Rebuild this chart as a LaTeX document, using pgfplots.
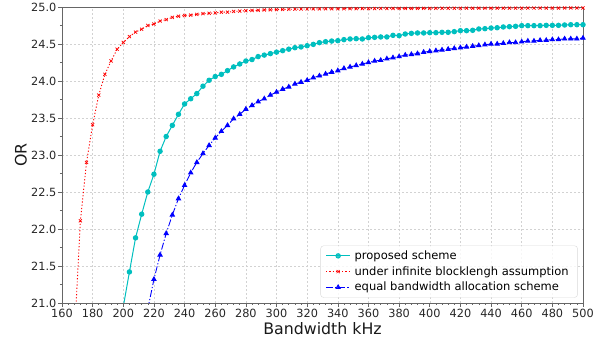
\documentclass[border=0pt]{standalone}
\usepackage{fontspec}
\setmainfont{DejaVu Sans}
\usepackage{pgfplots}
\pgfplotsset{compat=1.18}
\definecolor{mplc}{rgb}{0,0.75,0.75}
\begin{document}
\begin{tikzpicture}
\useasboundingbox (0,0) rectangle (606pt,337pt);
\begin{axis}[
  at={(62pt,34pt)}, anchor=south west,
  scale only axis, width=521pt, height=296pt,
  xmin=160, xmax=500, ymin=21, ymax=25,
  xtick={160,180,...,500},
  ytick={21,21.5,...,25},
  minor x tick num=4, minor y tick num=1,
  yticklabel style={/pgf/number format/.cd, fixed, fixed zerofill, precision=1},
  /pgf/number format/assume math mode=true,
  tick label style={font=\fontsize{11.3}{13}\selectfont, text=black!85, inner sep=1.5pt},
  tick align=outside, tick pos=left,
  major tick length=4pt, minor tick length=2pt,
  every tick/.style={black!60, line width=0.6pt},
  axis line style={black!60, line width=0.8pt},
  grid=major,
  major grid style={gray!35, line width=0.5pt, dash pattern=on 2pt off 2pt},
  xlabel={Bandwidth kHz}, ylabel={OR},
  every axis x label/.style={at={(axis description cs:0.5,-0.085)}, anchor=center, inner sep=0pt, font=\fontsize{15.8}{18}\selectfont, text=black!90},
  every axis y label/.style={at={(axis description cs:-0.079,0.5)}, anchor=center, rotate=90, inner sep=0pt, font=\fontsize{15.8}{18}\selectfont, text=black!90},
  legend style={at={(0.99,0.018)}, anchor=south east, draw=gray!30, rounded corners=3pt,
    fill=white, fill opacity=0.8, text opacity=1,
    font=\fontsize{11.5}{13}\selectfont, row sep=1.5pt, inner xsep=5pt, inner ysep=3pt,
    nodes={inner xsep=4pt}},
  legend cell align=left,
  legend image code/.code={\draw[mark repeat=2,mark phase=2,#1] plot coordinates {(0pt,0pt) (12pt,0pt) (24pt,0pt)};},
]
\addplot[mplc, line width=1pt, mark=*, mark size=2.2pt, mark options={solid}] coordinates {
(200,20.95) (204,21.42) (208,21.88) (212,22.20) (216,22.50) (220,22.74) (224,23.05) (228,23.25)
(232,23.40) (236,23.55) (240,23.69) (244,23.76) (248,23.83) (252,23.93) (256,24.01) (260,24.06)
(264,24.09) (268,24.14) (272,24.19) (276,24.23) (280,24.27) (284,24.29) (288,24.33) (292,24.35)
(296,24.37) (300,24.39) (304,24.41) (308,24.43) (312,24.45) (316,24.46)
(320,24.477) (324,24.495) (328,24.518) (332,24.531) (336,24.540) (340,24.545) (344,24.559) (348,24.568)
(352,24.572) (356,24.568) (360,24.585) (364,24.590) (368,24.595) (372,24.595) (376,24.617) (380,24.613)
(384,24.635) (388,24.644) (392,24.649) (396,24.649) (400,24.653) (404,24.653) (408,24.658) (412,24.658)
(416,24.667) (420,24.680) (424,24.680) (428,24.685) (432,24.703) (436,24.707) (440,24.716) (444,24.720)
(448,24.730) (452,24.734) (456,24.739) (460,24.748) (464,24.748) (468,24.748) (472,24.748) (476,24.752)
(480,24.752) (484,24.752) (488,24.757) (492,24.761) (496,24.761) (500,24.761)
};
\addlegendentry{proposed scheme}
\addplot[red, line width=0.9pt, dash pattern=on 1.2pt off 2pt, mark=x, mark size=2.2pt, mark options={solid, line width=0.7pt}] coordinates {
(168,20.5) (172,22.11) (176,22.90) (180,23.41) (184,23.81) (188,24.09) (192,24.27) (196,24.43)
(200,24.52) (204,24.60) (208,24.66) (212,24.70) (216,24.75) (220,24.77) (224,24.81) (228,24.83)
(232,24.86) (236,24.875) (240,24.885) (244,24.89) (248,24.90) (252,24.91) (256,24.915) (260,24.92)
(264,24.93) (268,24.93) (272,24.94) (276,24.945) (280,24.95) (284,24.953) (288,24.956) (292,24.96)
(296,24.962) (300,24.965) (304,24.967) (308,24.969) (312,24.971) (316,24.973) (320,24.974)
(324,24.975) (328,24.975) (332,24.976) (336,24.976) (340,24.977) (344,24.977) (348,24.978) (352,24.978)
(356,24.979) (360,24.979) (364,24.979) (368,24.980) (372,24.980) (376,24.980) (380,24.981) (384,24.981)
(388,24.981) (392,24.982) (396,24.982) (400,24.982) (404,24.982) (408,24.983) (412,24.983) (416,24.983)
(420,24.983) (424,24.984) (428,24.984) (432,24.984) (436,24.984) (440,24.984) (444,24.985) (448,24.985)
(452,24.985) (456,24.985) (460,24.985) (464,24.986) (468,24.986) (472,24.986) (476,24.986) (480,24.986)
(484,24.986) (488,24.987) (492,24.987) (496,24.987) (500,24.987)
};
\addlegendentry{under infinite blocklengh assumption}
\addplot[blue, line width=0.9pt, dash pattern=on 7pt off 2pt on 1.2pt off 2pt, mark=triangle*, mark size=2.4pt, mark options={solid}] coordinates {
(216,20.92) (220,21.32) (224,21.65) (228,21.94) (232,22.19) (236,22.41) (240,22.59) (244,22.76)
(248,22.90) (252,23.02) (256,23.13) (260,23.23) (264,23.32) (268,23.40) (272,23.49) (276,23.55)
(280,23.62) (284,23.67) (288,23.72) (292,23.76) (296,23.81) (300,23.85) (304,23.89) (308,23.92)
(312,23.96) (316,23.985) (320,24.01) (324,24.045) (328,24.07) (332,24.095) (336,24.12) (340,24.14)
(344,24.17) (348,24.19) (352,24.21) (356,24.23) (360,24.25) (364,24.27) (368,24.28) (372,24.30)
(376,24.315) (380,24.33) (384,24.35) (388,24.36) (392,24.37) (396,24.39) (400,24.40) (404,24.41)
(408,24.42) (412,24.43) (416,24.44) (420,24.45) (424,24.46) (428,24.47) (432,24.48) (436,24.49)
(440,24.50) (444,24.50) (448,24.51) (452,24.52) (456,24.52) (460,24.53) (464,24.54) (468,24.54)
(472,24.55) (476,24.55) (480,24.56) (484,24.56) (488,24.57) (492,24.57) (496,24.57) (500,24.58)
};
\addlegendentry{equal bandwidth allocation scheme}
\end{axis}
\end{tikzpicture}
\end{document}
